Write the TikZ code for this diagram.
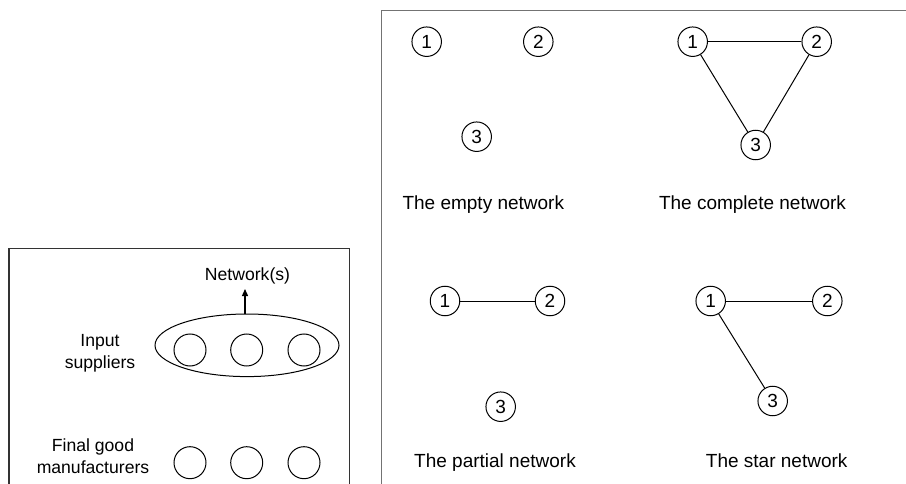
\documentclass[tikz,border=0pt]{standalone}
\usepackage{fontspec}
\setmainfont{Liberation Sans}
\usetikzlibrary{arrows.meta,shapes.geometric}
\begin{document}
\begin{tikzpicture}[x=1pt,y=-1pt,
  vert/.style={circle,draw=black,line width=1pt,minimum size=29.5pt,inner sep=0pt,font=\fontsize{19}{19}\selectfont},
  agent/.style={circle,draw=black,line width=1pt,minimum size=32pt,inner sep=0pt},
  edge/.style={draw=black,line width=1pt},
  netlabel/.style={font=\fontsize{19}{22}\selectfont,anchor=base},
  side/.style={font=\fontsize{17.6}{21.5}\selectfont,align=center}]
\useasboundingbox (0,0) rectangle (906,484);
% frames
\draw[line width=1.2pt,draw=black!80] (9,484) -- (9,248.3) -- (349.5,248.3) -- (349.5,484);
\draw[line width=1.2pt,draw=black!55] (381.7,484) -- (381.7,10.7) -- (906,10.7);
% left panel
\node[side] (inp) at (100,353.5) {Input\\suppliers};
\node[side] (fin) at (93,456) {Final good\\manufacturers};
\node[ellipse,draw=black,line width=1pt,minimum width=184pt,minimum height=62.6pt,inner sep=0pt] (ell) at (247,345.3) {};
\node[agent] (s1) at (190,350) {};
\node[agent] (s2) at (246.7,350) {};
\node[agent] (s3) at (304,350) {};
\node[agent] (m1) at (190,462.7) {};
\node[agent] (m2) at (246.7,462.7) {};
\node[agent] (m3) at (304,462.7) {};
\node[font=\fontsize{17.6}{20}\selectfont] (net) at (247.5,276) {Network(s)};
\coordinate (arrtip) at (245,289);
\draw[line width=1.3pt,-{Triangle[length=7pt,width=6pt]}] (ell.north -| arrtip) -- (arrtip);
% empty network
\node[vert] (e1) at (426.7,41.7) {1};
\node[vert] (e2) at (538.3,41.7) {2};
\node[vert] (e3) at (476.7,136.7) {3};
\node[netlabel] (ecap) at (483.3,210) {The empty network};
% complete network
\node[vert] (c1) at (692.7,41.7) {1};
\node[vert] (c2) at (816.7,41.7) {2};
\node[vert] (c3) at (755.7,145) {3};
\node[netlabel] (ccap) at (752.5,210) {The complete network};
\draw[edge] (c1) -- (c2);
\draw[edge] (c1) -- (c3);
\draw[edge] (c2) -- (c3);
% partial network
\node[vert] (p1) at (445,301) {1};
\node[vert] (p2) at (550,301) {2};
\node[vert] (p3) at (500.7,406.7) {3};
\node[netlabel] (pcap) at (495,467.5) {The partial network};
\draw[edge] (p1) -- (p2);
% star network
\node[vert] (t1) at (710.7,301) {1};
\node[vert] (t2) at (827.3,301) {2};
\node[vert] (t3) at (772.7,401) {3};
\node[netlabel] (tcap) at (776.7,467.5) {The star network};
\draw[edge] (t1) -- (t2);
\draw[edge] (t1) -- (t3);
\end{tikzpicture}
\end{document}
